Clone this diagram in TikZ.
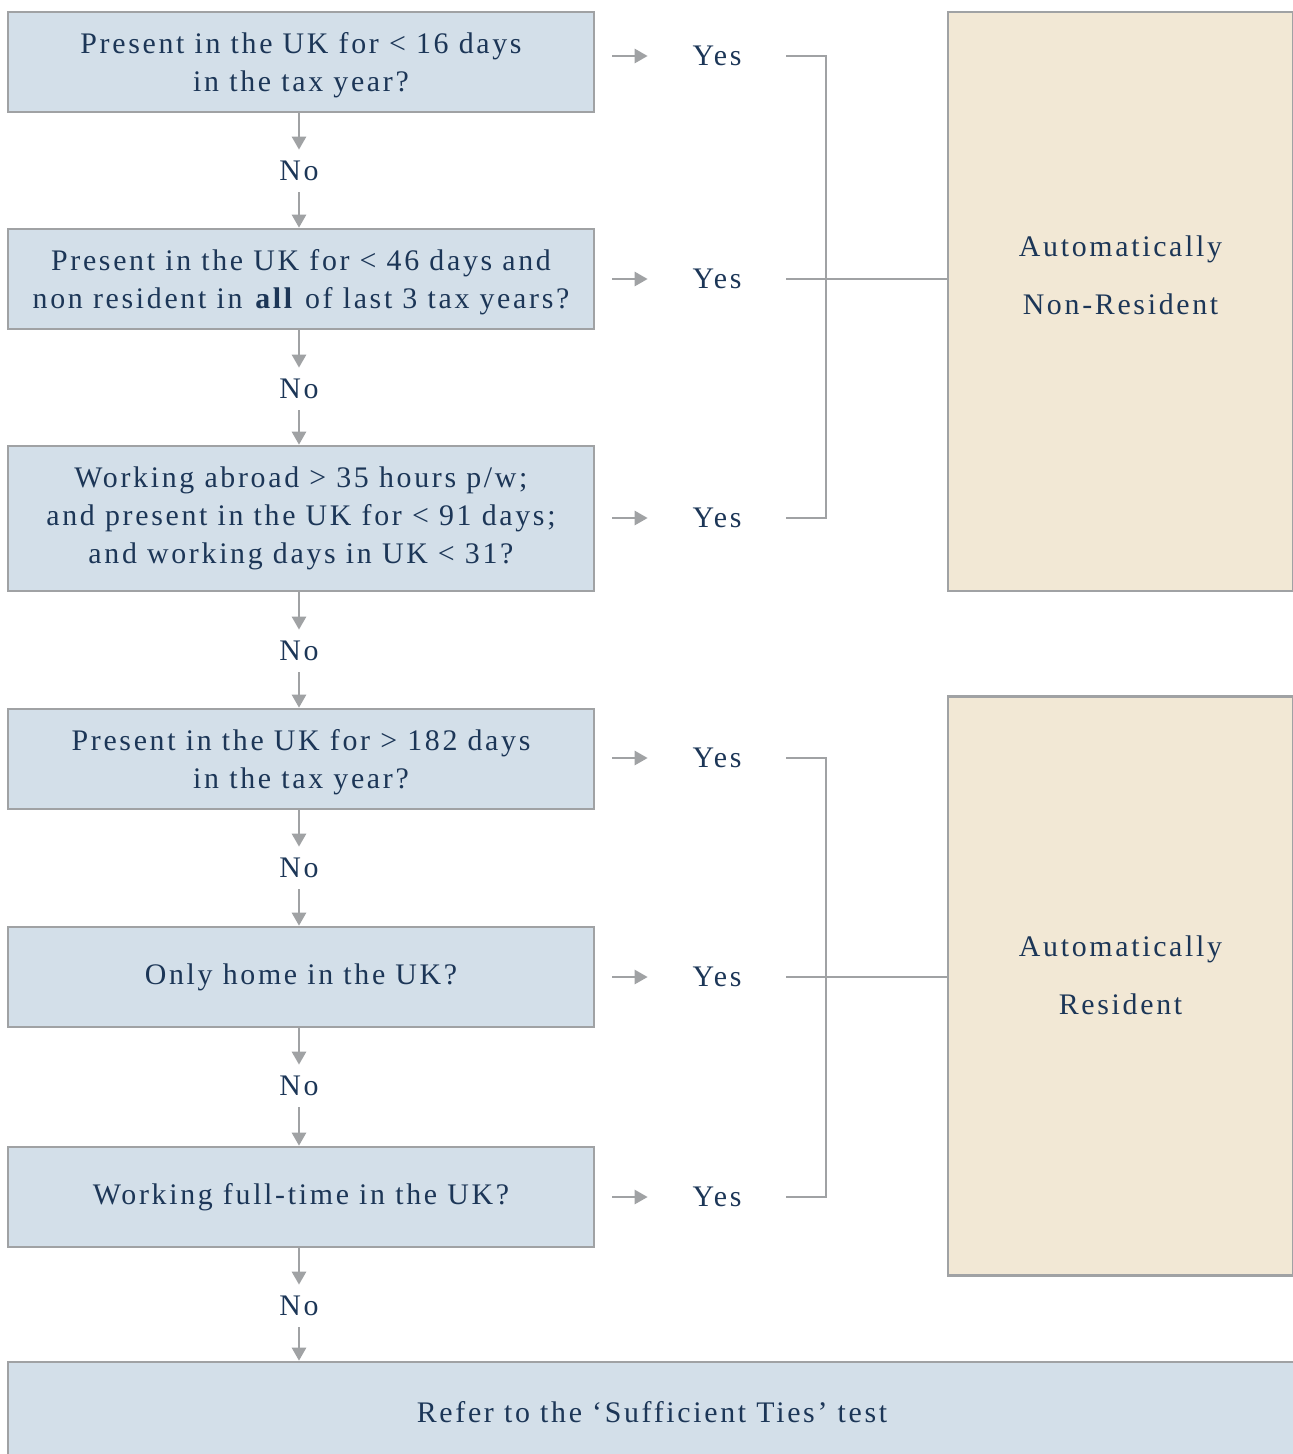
\documentclass[tikz,border=0pt]{standalone}
\usepackage{fontspec}
\setmainfont[LetterSpace=9]{Liberation Serif}
\usetikzlibrary{arrows.meta}
\definecolor{qfill}{HTML}{D3DFE9}
\definecolor{rfill}{HTML}{F2E8D5}
\definecolor{edge}{HTML}{A0A2A4}
\definecolor{ink}{HTML}{1C3657}

\begin{document}
\begin{tikzpicture}[
    x=0.02cm, y=-0.02cm,
    txt/.style={text=ink, font=\fontsize{17}{21.6}\selectfont, inner sep=0pt},
    question/.style={txt, draw=edge, line width=1.5pt, fill=qfill, minimum width=11.72cm, minimum height=2cm, align=center},
    twoline/.style={question, text depth=0pt},
    result/.style={draw=edge, line width=1.5pt, fill=rfill, minimum width=6.9cm, minimum height=11.58cm},
    restext/.style={txt, align=center, font=\fontsize{17}{33}\selectfont},
    answer/.style={txt, minimum width=2.76cm},
    noans/.style={txt, minimum height=0.84cm},
    flow/.style={draw=edge, line width=1.5pt, -{Triangle[width=0.28cm,length=0.26cm]}},
    link/.style={draw=edge, line width=1.5pt},
  ]
  \clip (0,0) rectangle (1293,1454);
  % questions, top to bottom
  \node[twoline] (q1) at (301,62) {Present in the UK for < 16 days\\in the tax year?};
  \node[twoline] (q2) at (301,279) {Present in the UK for < 46 days and\\non resident in \textbf{all} of last 3 tax years?};
  \node[question, minimum height=2.9cm] (q3) at (301,518.5) {Working abroad > 35 hours p/w;\\and present in the UK for < 91 days;\\and working days in UK < 31?};
  \node[twoline] (q4) at (301,759) {Present in the UK for > 182 days\\in the tax year?};
  \node[question] (q5) at (301,977) {Only home in the UK?};
  \node[question] (q6) at (301,1197) {Working full-time in the UK?};
  \node[question, minimum width=25.76cm] (q7) at (652,1412) {Refer to the ‘Sufficient Ties’ test};
  % outcomes
  \node[result] (nonres) at (1120.5,301.5) {};
  \node[restext] (nonrestxt) at ([yshift=0.52cm]nonres.center) {Automatically\\Non-Resident};
  \node[result] (res) at (1120.5,986) {};
  \node[restext] (restxt) at ([yshift=0.21cm]res.center) {Automatically\\Resident};
  % "No" steps down the left column
  \foreach \a/\i/\y/\b in {q1/1/171/q2, q2/2/389/q3, q3/3/651/q4, q4/4/868/q5, q5/5/1086/q6, q6/6/1306/q7} {
    \node[noans] (no\i) at (299,\y) {No};
    \draw[flow] (no\i.north |- \a.south) -- (no\i.north);
    \draw[flow] (no\i.south) -- (no\i.south |- \b.north);
  }
  % "Yes" branches to the right
  \foreach \i/\y in {1/56, 2/279, 3/518, 4/758, 5/977, 6/1197} {
    \node[answer] (yes\i) at (717,\y) {Yes};
    \draw[flow, shorten <=0.34cm] (q\i.east |- yes\i) -- (yes\i.west);
  }
  % brackets
  \coordinate (bar) at (826,0);
  \draw[link] (yes1.east) -| (bar |- yes3) -- (yes3.east);
  \draw[link] (yes2.east) -- (nonres.west |- yes2);
  \draw[link] (yes4.east) -| (bar |- yes6) -- (yes6.east);
  \draw[link] (yes5.east) -- (res.west |- yes5);
\end{tikzpicture}
\end{document}
